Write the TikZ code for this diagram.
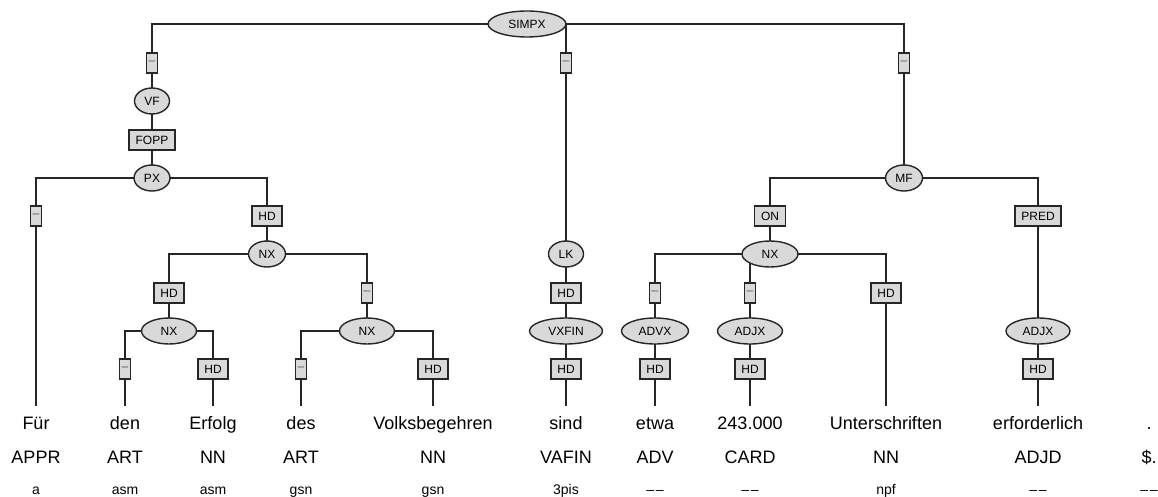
\documentclass[tikz,border=0pt]{standalone}
\usepackage{fontspec}
\setmainfont{Liberation Sans}
\usetikzlibrary{shapes.geometric,backgrounds}
\tikzset{
  edge/.style={draw=black!85, line width=1.4pt},
  cat/.style={ellipse, draw=black!85, line width=1.4pt, fill=black!15, inner sep=0pt,
    minimum height=26pt, font=\fontsize{12}{14}\selectfont},
  fn/.style={rectangle, draw=black!85, line width=1.4pt, fill=black!15, inner xsep=6.5pt,
    inner ysep=0pt, minimum height=20pt, font=\fontsize{12}{14}\selectfont},
  nofn/.style={fn, inner xsep=2pt, text=black!65},
  word/.style={anchor=base, font=\fontsize{18}{21}\selectfont, text height=13pt, inner ysep=10pt},
  postag/.style={anchor=base, font=\fontsize{18}{21}\selectfont},
  morph/.style={anchor=base, font=\fontsize{14}{16}\selectfont},
}
\begin{document}
\begin{tikzpicture}[x=1pt, y=-1pt]
\useasboundingbox (0,0) rectangle (1158,497);
% tree nodes
\node[cat, minimum width=78pt] (simpx) at (527,24) {SIMPX};
\node[nofn] (d1) at (152,63) {–};
\node[nofn] (d2) at (566,63) {–};
\node[nofn] (d3) at (904,63) {–};
\node[cat, minimum width=35pt] (vf) at (152,101) {VF};
\node[fn] (fopp) at (152,140) {FOPP};
\node[cat, minimum width=36pt] (px) at (152,178) {PX};
\node[nofn] (d4) at (36,216) {–};
\node[fn] (hd1) at (267,216) {HD};
\node[cat, minimum width=37pt] (nx1) at (267,254) {NX};
\node[fn] (hd2) at (169,293) {HD};
\node[nofn] (d5) at (367,293) {–};
\node[cat, minimum width=55pt] (nx2) at (169,331) {NX};
\node[cat, minimum width=55pt] (nx3) at (367,331) {NX};
\node[nofn] (d6) at (125,369) {–};
\node[fn] (hd3) at (213,369) {HD};
\node[nofn] (d7) at (301,369) {–};
\node[fn] (hd4) at (433,369) {HD};
\node[cat, minimum width=35pt] (lk) at (566,254) {LK};
\node[fn] (hd5) at (566,293) {HD};
\node[cat, minimum width=73pt] (vxfin) at (566,331) {VXFIN};
\node[fn] (hd6) at (566,369) {HD};
\node[cat, minimum width=37pt] (mf) at (904,178) {MF};
\node[fn] (on) at (770,216) {ON};
\node[fn] (pred) at (1038,216) {PRED};
\node[cat, minimum width=56pt] (nx4) at (770,254) {NX};
\node[nofn] (d8) at (655,293) {–};
\node[nofn] (d9) at (750,293) {–};
\node[fn] (hd7) at (886,293) {HD};
\node[cat, minimum width=67pt] (advx) at (655,331) {ADVX};
\node[cat, minimum width=65pt] (adjx1) at (750,331) {ADJX};
\node[cat, minimum width=64pt] (adjx2) at (1038,331) {ADJX};
\node[fn] (hd8) at (655,369) {HD};
\node[fn] (hd9) at (750,369) {HD};
\node[fn] (hd10) at (1038,369) {HD};
% words
\node[word] (w1) at (36,429) {Für};
\node[word] (w2) at (125,429) {den};
\node[word] (w3) at (213,429) {Erfolg};
\node[word] (w4) at (301,429) {des};
\node[word] (w5) at (433,429) {Volksbegehren};
\node[word] (w6) at (566,429) {sind};
\node[word] (w7) at (655,429) {etwa};
\node[word] (w8) at (750,429) {243.000};
\node[word] (w9) at (886,429) {Unterschriften};
\node[word] (w10) at (1038,429) {erforderlich};
\node[word] (w11) at (1149,429) {.};
% POS tags
\node[postag] (p1) at (36,463) {APPR};
\node[postag] (p2) at (125,463) {ART};
\node[postag] (p3) at (213,463) {NN};
\node[postag] (p4) at (301,463) {ART};
\node[postag] (p5) at (433,463) {NN};
\node[postag] (p6) at (566,463) {VAFIN};
\node[postag] (p7) at (655,463) {ADV};
\node[postag] (p8) at (750,463) {CARD};
\node[postag] (p9) at (886,463) {NN};
\node[postag] (p10) at (1038,463) {ADJD};
\node[postag] (p11) at (1149,463) {\$.};
% morphology
\node[morph] (m1) at (36,494) {a};
\node[morph] (m2) at (125,494) {asm};
\node[morph] (m3) at (213,494) {asm};
\node[morph] (m4) at (301,494) {gsn};
\node[morph] (m5) at (433,494) {gsn};
\node[morph] (m6) at (566,494) {3pis};
\node[morph] (m7) at (655,494) {–\kern1.5pt–};
\node[morph] (m8) at (750,494) {–\kern1.5pt–};
\node[morph] (m9) at (886,494) {npf};
\node[morph] (m10) at (1038,494) {–\kern1.5pt–};
\node[morph] (m11) at (1149,494) {–\kern1.5pt–};
% edges
\begin{scope}[on background layer]
\draw[edge] (simpx.center) -| (d1.center) -- (vf.center) -- (fopp.center) -- (px.center);
\draw[edge] (simpx.center) -| (d2.center) -- (lk.center);
\draw[edge] (simpx.center) -| (d3.center) -- (mf.center);
\draw[edge] (px.center) -| (d4.center) -- (w1.north);
\draw[edge] (px.center) -| (hd1.center) -- (nx1.center);
\draw[edge] (nx1.center) -| (hd2.center) -- (nx2.center);
\draw[edge] (nx1.center) -| (d5.center) -- (nx3.center);
\draw[edge] (nx2.center) -| (d6.center) -- (w2.north);
\draw[edge] (nx2.center) -| (hd3.center) -- (w3.north);
\draw[edge] (nx3.center) -| (d7.center) -- (w4.north);
\draw[edge] (nx3.center) -| (hd4.center) -- (w5.north);
\draw[edge] (lk.center) -- (hd5.center) -- (vxfin.center) -- (hd6.center) -- (w6.north);
\draw[edge] (mf.center) -| (on.center) -- (nx4.center);
\draw[edge] (mf.center) -| (pred.center) -- (adjx2.center) -- (hd10.center) -- (w10.north);
\draw[edge] (nx4.center) -| (d8.center) -- (advx.center) -- (hd8.center) -- (w7.north);
\draw[edge] (nx4.center) -| (d9.center) -- (adjx1.center) -- (hd9.center) -- (w8.north);
\draw[edge] (nx4.center) -| (hd7.center) -- (w9.north);
\end{scope}
\end{tikzpicture}
\end{document}
